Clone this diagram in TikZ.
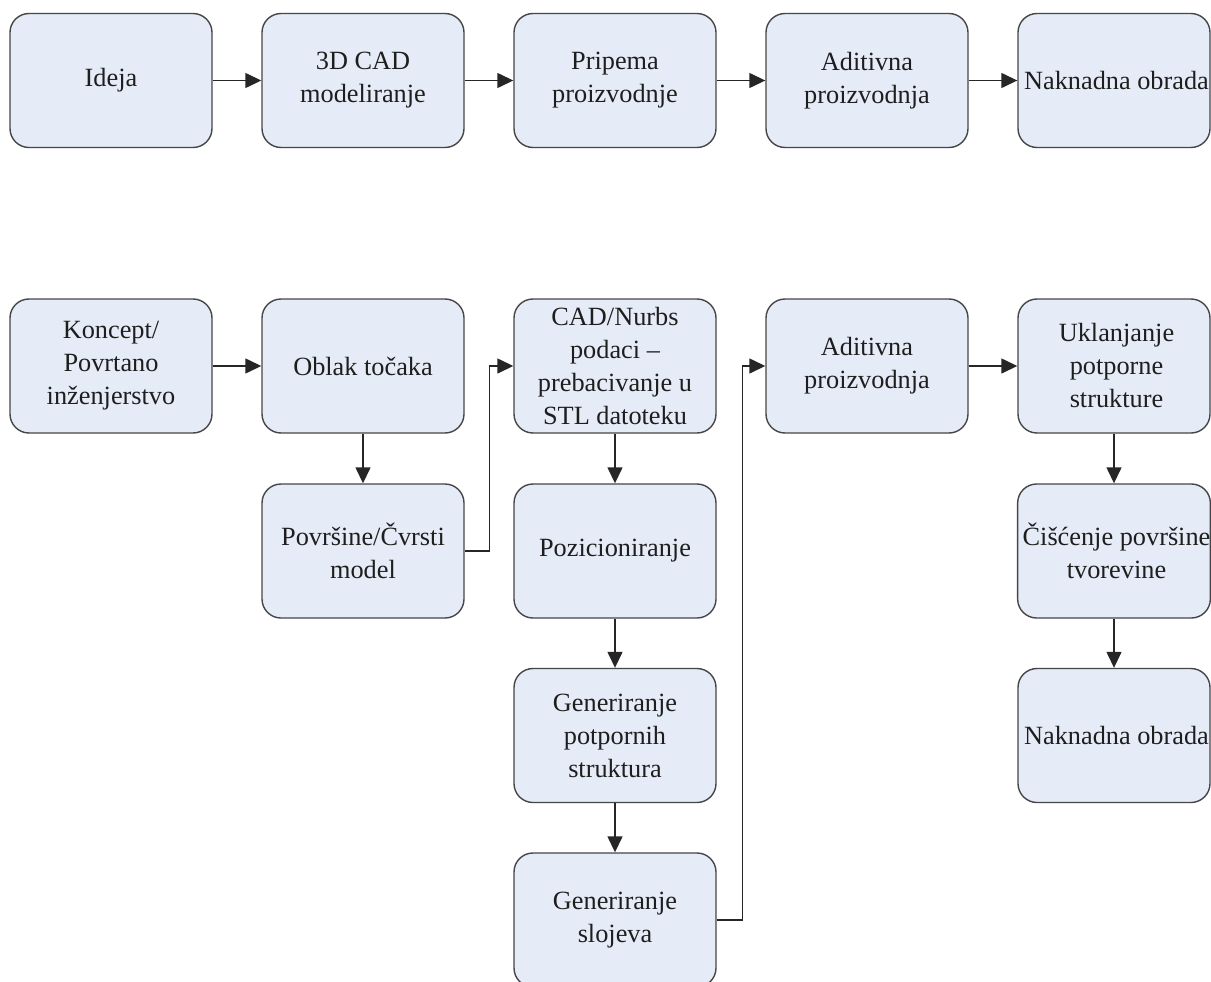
\documentclass[tikz,border=0pt]{standalone}
\usepackage{fontspec}
\setmainfont{Liberation Serif}
\usetikzlibrary{arrows.meta}
\definecolor{boxfill}{RGB}{230,236,247}
\definecolor{boxline}{RGB}{70,70,70}
\definecolor{txt}{RGB}{30,30,30}
\tikzset{
  stepbox/.style={draw=boxline, line width=1.4pt, fill=boxfill, rounded corners=19pt,
    minimum width=202pt, minimum height=134pt, inner sep=0pt, align=center,
    text=txt, font={\fontsize{26.3}{33}\selectfont}},
  lastbox/.style={stepbox, minimum width=192pt},
  arr/.style={draw=black!85, line width=1.4pt, -{Triangle[length=16pt,width=15pt]}}
}
\begin{document}
\begin{tikzpicture}[x=1pt,y=-1pt]
\useasboundingbox (0,0) rectangle (1211,982);
\clip (0,0) rectangle (1211,982);
\fill[white] (0,0) rectangle (1211,982);
% top row
\node[stepbox] (t1) at (111,80.5) {Ideja};
\node[stepbox] (t2) at (363,80.5) {3D CAD\\modeliranje};
\node[stepbox] (t3) at (615,80.5) {Pripema\\proizvodnje};
\node[stepbox] (t4) at (867,80.5) {Aditivna\\proizvodnja};
\node[lastbox] (t5) at (1114,80.5) {\hspace*{5pt}Naknadna obrada};
\draw[arr] (t1) -- (t2);
\draw[arr] (t2) -- (t3);
\draw[arr] (t3) -- (t4);
\draw[arr] (t4) -- (t5);
% bottom part
\node[stepbox] (kon) at (111,366) {Koncept/\\Povrtano\\inženjerstvo};
\node[stepbox] (obl) at (363,366) {Oblak točaka};
\node[stepbox] (pov) at (363,551) {Površine/Čvrsti\\model};
\node[stepbox] (cad) at (615,366) {CAD/Nurbs\\podaci –\\prebacivanje u\\STL datoteku};
\node[stepbox] (poz) at (615,551) {Pozicioniranje};
\node[stepbox] (gps) at (615,735.5) {Generiranje\\potpornih\\struktura};
\node[stepbox] (gsl) at (615,920) {Generiranje\\slojeva};
\node[stepbox] (adi) at (867,366) {Aditivna\\proizvodnja};
\node[lastbox] (ukl) at (1114,366) {\hspace*{5pt}Uklanjanje\\\hspace*{5pt}potporne\\\hspace*{5pt}strukture};
\node[lastbox] (cis) at (1114,551) {\hspace*{5pt}Čišćenje površine\\\hspace*{5pt}tvorevine};
\node[lastbox] (nak) at (1114,735.5) {\hspace*{5pt}Naknadna obrada};
\draw[arr] (kon) -- (obl);
\draw[arr] (obl) -- (pov);
\draw[arr] (pov.east) -- ++(25,0) |- (cad.west);
\draw[arr] (cad) -- (poz);
\draw[arr] (poz) -- (gps);
\draw[arr] (gps) -- (gsl);
\draw[arr] (gsl.east) -- ++(26,0) |- (adi.west);
\draw[arr] (adi) -- (ukl);
\draw[arr] (ukl) -- (cis);
\draw[arr] (cis) -- (nak);
\end{tikzpicture}
\end{document}
